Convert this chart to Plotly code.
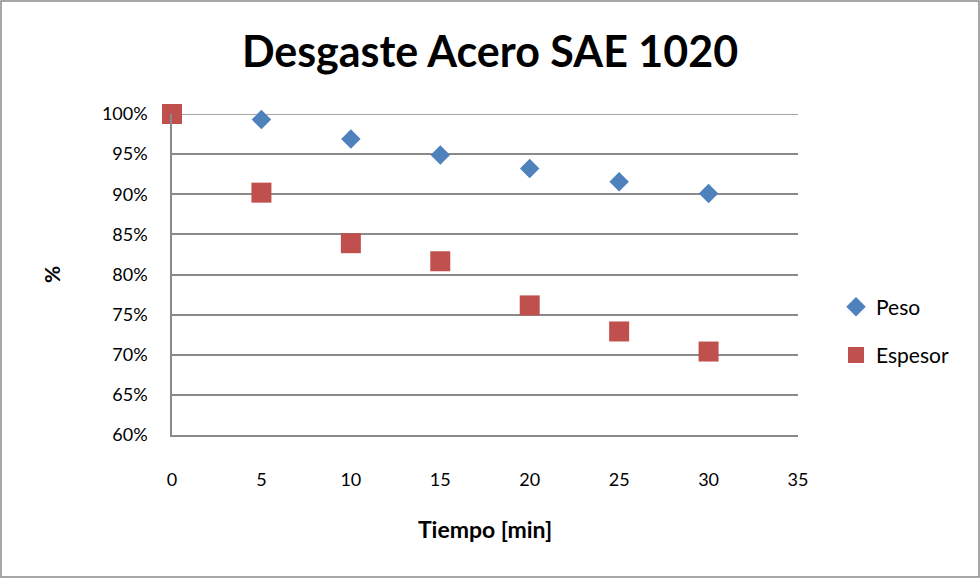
import plotly.graph_objects as go

tiempo = [0, 5, 10, 15, 20, 25, 30]
peso = [100, 99.3, 96.9, 94.9, 93.2, 91.55, 90.1]
espesor = [100, 90.2, 83.9, 81.65, 76.15, 72.9, 70.4]
x_ticks = [0, 5, 10, 15, 20, 25, 30, 35]
y_ticks = [60, 65, 70, 75, 80, 85, 90, 95, 100]
y_ticklabels = [f"{v}%" for v in y_ticks]

W, H = 980, 578
L, R, T, B = 172, 182, 114, 143
pw, ph = W - L - R, H - T - B

FONT = "Lato"
GRID = "#8a8a8a"

fig = go.Figure()
fig.add_trace(go.Scatter(
    x=tiempo, y=peso, mode="markers", name="Peso", legendgroup="a",
    marker=dict(symbol="diamond", size=15, color="#4F81BD"),
))
fig.add_trace(go.Scatter(
    x=tiempo, y=espesor, mode="markers", name="Espesor", legendgroup="b",
    marker=dict(symbol="square", size=20, color="#C0504D"),
))

fig.update_layout(
    width=W, height=H,
    margin=dict(l=L, r=R, t=T, b=B, autoexpand=False),
    paper_bgcolor="white", plot_bgcolor="white",
    font=dict(family=FONT, color="black", size=17),
    title=dict(text="<b>Desgaste Acero SAE 1020</b>", x=0.5, xanchor="center",
               y=1 - 52 / H, yanchor="middle",
               font=dict(family=FONT, size=43, color="black")),
    showlegend=True,
    legend=dict(x=(836 - L) / pw, xanchor="left", y=(H - B - 331) / ph,
                yanchor="middle", tracegroupgap=18, font=dict(size=21, family=FONT),
                bgcolor="rgba(0,0,0,0)"),
    xaxis=dict(range=[0, 35], tickvals=x_ticks, showgrid=False, zeroline=False,
               showline=True, linecolor=GRID, linewidth=1.5,
               ticks="", ticklabelstandoff=28, tickfont=dict(size=18),
               title=dict(text="<b>Tiempo [min]</b>", font=dict(size=23), standoff=33)),
    yaxis=dict(range=[60, 100], tickvals=y_ticks, ticktext=y_ticklabels,
               showgrid=True, gridcolor=GRID, gridwidth=1.5, zeroline=False,
               showline=True, linecolor=GRID, linewidth=1.5,
               ticks="", ticklabelstandoff=19, tickfont=dict(size=18),
               title=dict(text="<b>%</b>", font=dict(size=21), standoff=36)),
    shapes=[
        dict(type="rect", xref="paper", yref="paper",
             x0=(-L + 1) / pw, x1=1 + (R - 1) / pw,
             y0=(-B + 1) / ph, y1=1 + (T - 1) / ph,
             line=dict(color=GRID, width=1.5), fillcolor="rgba(0,0,0,0)",
             layer="below"),
        # top gridline (plotly clips gridlines at the range end)
        dict(type="line", xref="paper", yref="y", x0=0, x1=1,
             y0=y_ticks[-1], y1=y_ticks[-1],
             line=dict(color=GRID, width=1.5), layer="below"),
    ],
)
fig.update_traces(cliponaxis=False)

fig.write_html("out.html", config={"displayModeBar": False},
               post_script="document.body.style.margin='0';")
